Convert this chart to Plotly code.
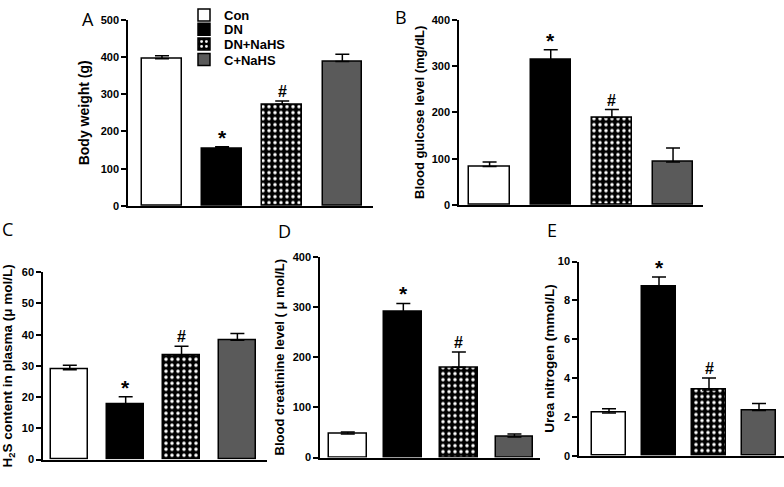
import plotly.graph_objects as go

# ---------------- data ----------------
groups = ["Con", "DN", "DN+NaHS", "C+NaHS"]
sig_marks = ["", "*", "#", ""]

body_weight = [395, 155, 273, 388]
body_weight_sem = [8, 4, 9, 19]

glucose = [83, 313, 189, 93]
glucose_sem = [10, 22, 17, 30]

h2s = [28.8, 17.7, 33.5, 38.2]
h2s_sem = [1.4, 2.4, 2.8, 2.2]

creatinine = [47, 290, 180, 41]
creatinine_sem = [4, 17, 30, 6]

urea = [2.2, 8.72, 3.38, 2.33]
urea_sem = [0.22, 0.48, 0.62, 0.35]

titles = ["Body weight (g)",
          "Blood gulcose level (mg/dL)",
          "H<sub>2</sub>S content in plasma (μ mol/L)",
          "Blood creatinine level ( μ mol/L)",
          "Urea nitrogen (mmol/L)"]
letters = ["A", "B", "C", "D", "E"]
y_max = [500, 400, 60, 400, 10]
y_dtick = [100, 100, 10, 100, 2]

# ---------------- layout helpers ----------------
W, H = 784, 487
def px_x(a, b):
    return [a / W, b / W]
def px_y(top, bottom):
    return [(H - bottom) / H, (H - top) / H]

panels = [
    dict(vals=body_weight, sem=body_weight_sem, xd=px_x(128, 373), yd=px_y(14, 205),
         xr=[-0.565, 3.51], bw=0.66, so=8, ts=14, lx=88, ly=13),
    dict(vals=glucose, sem=glucose_sem, xd=px_x(459, 703), yd=px_y(14, 204),
         xr=[-0.5, 3.49], bw=0.66, so=4, ts=13, lx=401, ly=11),
    dict(vals=h2s, sem=h2s_sem, xd=px_x(43, 267), yd=px_y(273, 465),
         xr=[-0.48, 3.53], bw=0.66, so=7, ts=13.5, lx=7, ly=229),
    dict(vals=creatinine, sem=creatinine_sem, xd=px_x(320, 540), yd=px_y(257, 463),
         xr=[-0.5, 3.46], bw=0.68, so=5, ts=13, lx=284, ly=231),
    dict(vals=urea, sem=urea_sem, xd=px_x(579, 784), yd=px_y(262, 461),
         xr=[-0.6, 3.5], bw=0.68, so=0, ts=13.5, lx=552, ly=230),
]

legend_centers = [9, 24, 39, 55]

fills = ["white", "black", "black", "#5a5a5a"]
tick_font = dict(family="Liberation Sans, Arial", size=11, color="black", weight=700)

fig = go.Figure()
annotations = []

for p, pan in enumerate(panels):
    sfx = "" if p == 0 else str(p + 1)
    for g, name in enumerate(groups):
        pattern = dict(shape="")
        if name == "DN+NaHS":
            pattern = dict(shape=".", fgcolor="white", bgcolor="black",
                           fillmode="replace", size=6, solidity=0.27)
        fig.add_trace(go.Bar(
            x=[g], y=[pan["vals"][g]], name=name, legendgroup=name,
            legend="legend" if g == 0 else "legend%d" % (g + 1),
            showlegend=(p == 0), width=pan["bw"],
            marker=dict(color=fills[g], line=dict(color="black", width=1.5),
                        pattern=pattern),
            error_y=dict(type="data", symmetric=False, array=[pan["sem"][g]],
                         arrayminus=[0], color="black", thickness=1.5, width=7),
            xaxis="x" + sfx, yaxis="y" + sfx,
        ))
        if sig_marks[g]:
            is_star = sig_marks[g] == "*"
            annotations.append(dict(
                x=g, y=pan["vals"][g] + pan["sem"][g], xref="x" + sfx, yref="y" + sfx,
                text=sig_marks[g], showarrow=False, yanchor="bottom",
                yshift=-4 if is_star else -1,
                font=dict(family="Liberation Sans, Arial", size=21 if is_star else 16,
                          color="black", weight=700)))
    annotations.append(dict(
        x=pan["lx"] / W, y=(H - pan["ly"]) / H, xref="paper", yref="paper",
        text=letters[p], showarrow=False, xanchor="center", yanchor="middle",
        borderpad=0,
        font=dict(family="Open Sans, Liberation Sans", size=18, color="black")))

    fig.update_layout(**{
        "xaxis" + sfx: dict(domain=pan["xd"], range=pan["xr"], anchor="y" + sfx,
                            showline=True, linecolor="black", linewidth=1.5,
                            showticklabels=False, ticks="", showgrid=False, zeroline=False),
        "yaxis" + sfx: dict(domain=pan["yd"], range=[0, y_max[p]], dtick=y_dtick[p],
                            anchor="x" + sfx, showline=True, linecolor="black",
                            linewidth=1.5, ticks="outside", ticklen=5, tickwidth=1.5,
                            tickcolor="black", tickfont=tick_font, showgrid=False,
                            zeroline=False,
                            title=dict(text=titles[p], standoff=pan["so"],
                                       font=dict(family="Liberation Sans, Arial",
                                                 size=pan["ts"], color="black",
                                                 weight=700))),
    })

legend_font = dict(family="Liberation Sans, Arial", size=13, color="black", weight=700)
for g in range(len(groups)):
    key = "legend" if g == 0 else "legend%d" % (g + 1)
    fig.update_layout(**{key: dict(
        x=184 / W, y=(H - legend_centers[g]) / H, xanchor="left", yanchor="middle",
        font=legend_font, bgcolor="rgba(0,0,0,0)", borderwidth=0,
        itemclick=False, itemdoubleclick=False)})

fig.update_layout(
    width=W, height=H, margin=dict(l=0, r=0, t=0, b=0),
    paper_bgcolor="white", plot_bgcolor="white",
    barmode="overlay", bargap=0,
    showlegend=True,
    annotations=annotations,
)

fig.write_html("out.html", config={"displayModeBar": False},
               post_script="document.body.style.margin='0';document.body.style.overflow='hidden';")
